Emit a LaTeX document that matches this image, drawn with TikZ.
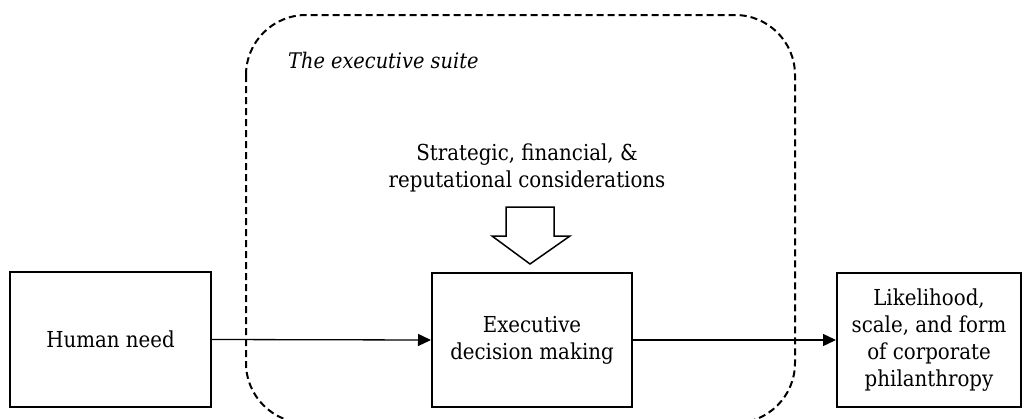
\documentclass[tikz,border=0pt]{standalone}
\usepackage{fontspec}
\setmainfont{DejaVu Serif Condensed}
\usetikzlibrary{arrows.meta}
\tikzset{
  box/.style={draw, line width=2pt, align=center, inner sep=0pt, font=\fontsize{22}{27}\selectfont},
  flow/.style={line width=1.3pt, -{Triangle[length=13pt,width=12pt]}},
  suite/.style={line width=2pt, dash pattern=on 7pt off 4pt, rounded corners=60pt},
  txt/.style={align=center, inner sep=0pt, font=\fontsize{22}{27}\selectfont}
}
\begin{document}
\begin{tikzpicture}[x=1pt,y=-1pt]
\useasboundingbox[fill=white] (0,0) rectangle (1026,418);
\draw[suite] (246,15) rectangle (795,423);
\node[anchor=base west, inner sep=0pt, font=\fontsize{21.5}{27}\selectfont\itshape] (lab) at (288,68) {The executive suite};
\node[txt] (cons) at (527,168) {Strategic, financial, \&\\reputational considerations};
\node[box, minimum width=201pt, minimum height=135pt] (hn) at (110.5,339.5) {Human need};
\node[box, minimum width=200pt, minimum height=134pt] (ex) at (532,340) {Executive\\decision making};
\node[box, minimum width=184pt, minimum height=134pt] (out) at (929,340) {Likelihood,\\scale, and form\\of corporate\\philanthropy};
\draw[line width=1.5pt, line join=miter] (506,207) -- (554,207) -- (554,236) -- (570,236) -- (530,264) -- (492,236) -- (506,236) -- cycle;
\draw[flow] (hn.east) -- (ex.west);
\draw[flow] (ex.east) -- (out.west);
\end{tikzpicture}
\end{document}
